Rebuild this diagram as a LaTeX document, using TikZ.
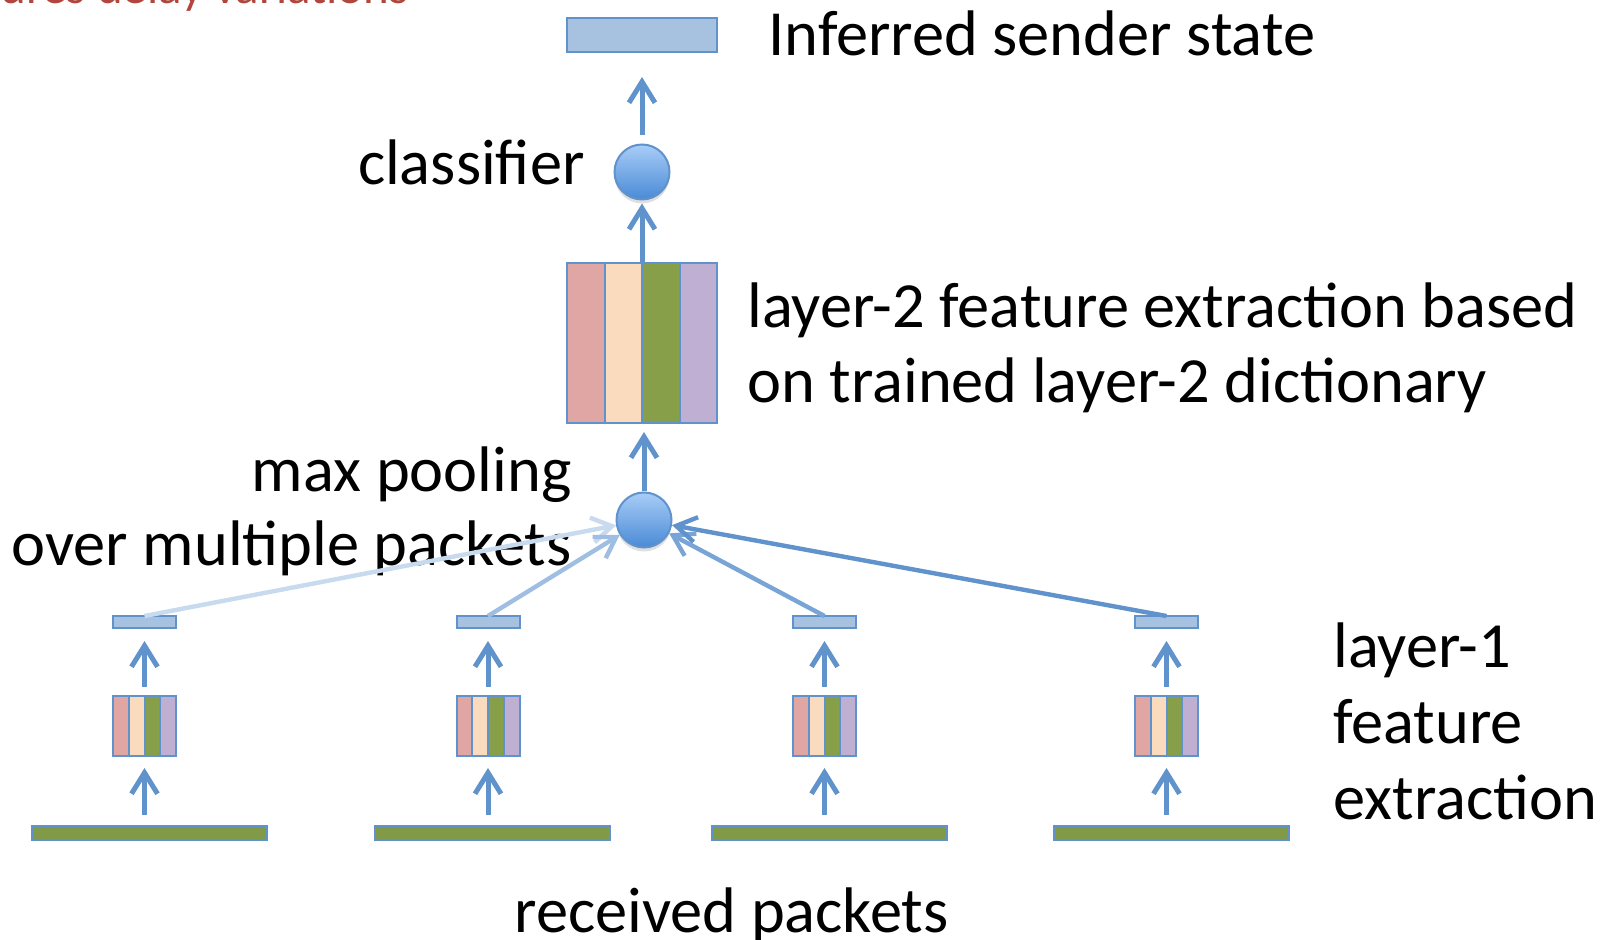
\documentclass[tikz,border=0pt]{standalone}
\usepackage{fontspec}
\setmainfont{Carlito}
\usetikzlibrary{arrows.meta,shadows,calc}
\definecolor{lblue}{RGB}{96,146,204}
\definecolor{boxfill}{RGB}{167,193,224}
\definecolor{cpink}{RGB}{224,166,164}
\definecolor{cpeach}{RGB}{251,219,190}
\definecolor{cgreen}{RGB}{136,159,74}
\definecolor{cpurple}{RGB}{191,176,211}
\definecolor{bargreen}{RGB}{128,154,72}
\definecolor{ctop}{RGB}{168,205,247}
\definecolor{cbot}{RGB}{74,138,214}
\definecolor{redtxt}{RGB}{176,70,62}
\definecolor{p1}{RGB}{200,218,238}
\definecolor{p2}{RGB}{160,190,226}
\definecolor{p3}{RGB}{120,164,214}
\definecolor{p4}{RGB}{96,146,204}
\newcommand\stripeblock[1]{%
  \fill[cpink]   (#1.north west) rectangle ($(#1.south west)!0.25!(#1.south east)$);
  \fill[cpeach]  ($(#1.north west)!0.25!(#1.north east)$) rectangle ($(#1.south west)!0.5!(#1.south east)$);
  \fill[cgreen]  ($(#1.north west)!0.5!(#1.north east)$) rectangle ($(#1.south west)!0.75!(#1.south east)$);
  \fill[cpurple] ($(#1.north west)!0.75!(#1.north east)$) rectangle (#1.south east);
  \draw[edge] ($(#1.north west)!0.25!(#1.north east)$) -- ($(#1.south west)!0.25!(#1.south east)$);
  \draw[edge] ($(#1.north west)!0.5!(#1.north east)$) -- ($(#1.south west)!0.5!(#1.south east)$);
  \draw[edge] ($(#1.north west)!0.75!(#1.north east)$) -- ($(#1.south west)!0.75!(#1.south east)$);
  \draw[edge] (#1.north west) rectangle (#1.south east);
}
\begin{document}
\begin{tikzpicture}[x=0.5pt,y=-0.5pt,
  lbl/.style={font=\fontsize{32.2}{38.6}\selectfont, inner sep=0pt, anchor=base west},
  edge/.style={draw=lblue, line width=1pt},
  outbox/.style={rectangle, draw=lblue, line width=1pt, fill=boxfill, inner sep=0pt, outer sep=0pt},
  blockbox/.style={rectangle, inner sep=0pt, outer sep=0pt},
  barbox/.style={rectangle, draw=lblue, line width=1pt, fill=bargreen, inner sep=0pt, outer sep=0pt, minimum width=117.5pt, minimum height=7pt},
  ball/.style={circle, draw=lblue, line width=1pt, top color=ctop, bottom color=cbot, minimum size=27.5pt, inner sep=0pt,
    drop shadow={opacity=0.25, shadow xshift=0pt, shadow yshift=-2pt}},
  arr/.style={draw=lblue, line width=2.5pt, line join=miter, -{Straight Barb[length=10.5pt,width=13pt]}},
  pconn/.style={line width=2.2pt, line join=miter, -{Straight Barb[length=10pt,width=12.5pt]}}
]
\useasboundingbox (0,0) rectangle (1612,940);
\begin{scope}
\clip (0,0) rectangle (1612,940);
\node[inner sep=0pt, anchor=base east, text=redtxt, font=\fontsize{24.5}{29}\selectfont] (redtext) at (409,3.5) {captures delay variations};
\end{scope}

% top output
\node[outbox, minimum width=75pt, minimum height=17pt] (out) at (642,35) {};
\node[lbl] (outlbl) at (768,56) {Inferred sender state};

% classifier
\node[ball] (cls) at (642,172) {};
\node[lbl, anchor=base east] (clslbl) at (585,185) {classifier};

% layer-2 block
\node[blockbox, minimum width=75pt, minimum height=80pt] (l2) at (642,343) {};
\stripeblock{l2}
\node[lbl] (l2lbl1) at (747,328) {layer-2 feature extraction based};
\node[lbl] (l2lbl2) at (747,403) {on trained layer-2 dictionary};

% pooling
\node[ball] (pool) at (644,520) {};
\node[lbl, anchor=base east] (poollbl1) at (572,492) {max pooling};
\node[lbl, anchor=base east] (poollbl2) at (572,566) {over multiple packets};

% main arrows
\draw[arr, shorten <=4pt, shorten >=12.5pt] (cls.north) -- (out.south);
\draw[arr, shorten >=1.5pt] (l2.north) -- (cls.south);
\draw[arr, shorten >=4.5pt] (pool.north) -- (pool.north |- l2.south);

% layer-1 columns
\foreach \i/\x in {1/144.5, 2/488, 3/824.5, 4/1166.5} {
  \node[outbox, minimum width=31.5pt, minimum height=6pt] (tb\i) at (\x,622) {};
  \node[blockbox, minimum width=31.5pt, minimum height=30pt] (sb\i) at (\x,726) {};
  \node[barbox] (bar\i) at (\x+4.5,833) {};
}
\foreach \i in {1,2,3,4} {
  \stripeblock{sb\i}
  \draw[arr, shorten <=4.5pt, shorten >=6.5pt] (sb\i.north) -- (tb\i.south);
  \draw[arr, shorten <=5.5pt, shorten >=6pt] (sb\i.south |- bar\i.north) -- (sb\i.south);
}

% connectors to pooling
\draw[pconn, draw=p1] (tb1.north) -- (pool);
\draw[pconn, draw=p2] (tb2.north) -- (pool);
\draw[pconn, draw=p3] (tb3.north) -- (pool);
\draw[pconn, draw=p4] (tb4.north) -- (pool);

% layer-1 label
\node[lbl] (l1a) at (1333,668) {layer-1};
\node[lbl] (l1b) at (1333,743) {feature};
\node[lbl] (l1c) at (1333,819) {extraction};

\node[lbl] (rcv) at (514,932) {received packets};
\end{tikzpicture}
\end{document}
